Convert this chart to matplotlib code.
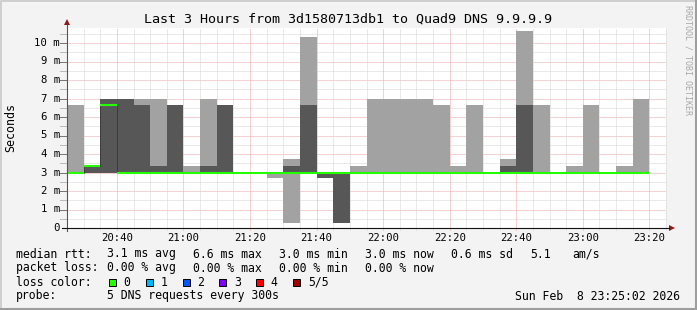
import matplotlib
matplotlib.use("Agg")
import matplotlib.pyplot as plt
from matplotlib.patches import Rectangle, Polygon

W, H = 697, 310
MONO = "DejaVu Sans Mono"

# 5 minute steps, start time of each step
step_times = ["20:25", "20:30", "20:35", "20:40", "20:45", "20:50", "20:55",
              "21:00", "21:05", "21:10", "21:15", "21:20", "21:25", "21:30",
              "21:35", "21:40", "21:45", "21:50", "21:55", "22:00", "22:05",
              "22:10", "22:15", "22:20", "22:25", "22:30", "22:35", "22:40",
              "22:45", "22:50", "22:55", "23:00", "23:05", "23:10", "23:15"]

# sorted ping values per step (ms): lowest, 2nd, median, 4th, highest
ping_lo = [3.0, 3.0, 3.0, 3.0, 3.0, 3.0, 3.0, 3.0, 3.0, 3.0, 3.0, 3.0, 2.70, 0.27,
           3.0, 2.70, 0.27, 3.0, 3.0, 3.0, 3.0, 3.0, 3.0, 3.0, 3.0, 3.0, 3.0, 3.0,
           3.0, 3.0, 3.0, 3.0, 3.0, 3.0, 3.0]
ping_q1 = [3.0, 3.0, 3.0, 3.0, 3.0, 3.0, 3.0, 3.0, 3.0, 3.0, 3.0, 3.0, 3.0, 3.0,
           3.0, 2.70, 0.27, 3.0, 3.0, 3.0, 3.0, 3.0, 3.0, 3.0, 3.0, 3.0, 3.0, 3.0,
           3.0, 3.0, 3.0, 3.0, 3.0, 3.0, 3.0]
median = [3.0, 3.35, 6.63, 3.0, 3.0, 3.0, 3.0, 3.0, 3.0, 3.0, 3.0, 3.0, 3.0, 3.0,
          3.0, 3.0, 3.0, 3.0, 3.0, 3.0, 3.0, 3.0, 3.0, 3.0, 3.0, 3.0, 3.0, 3.0,
          3.0, 3.0, 3.0, 3.0, 3.0, 3.0, 3.0]
ping_q3 = [3.0, 3.35, 7.0, 7.0, 6.63, 3.35, 6.63, 3.0, 3.35, 6.63, 3.0, 3.0, 3.0, 3.35,
           6.63, 3.0, 3.0, 3.0, 3.0, 3.0, 3.0, 3.0, 3.0, 3.0, 3.0, 3.0, 3.35, 6.63,
           3.0, 3.0, 3.0, 3.0, 3.0, 3.0, 3.0]
ping_hi = [6.63, 3.35, 7.0, 7.0, 7.0, 7.0, 6.63, 3.35, 7.0, 6.63, 3.0, 3.0, 3.0, 3.71,
           10.31, 3.0, 3.0, 3.35, 7.0, 7.0, 7.0, 7.0, 6.63, 3.35, 6.63, 3.0, 3.71, 10.63,
           6.63, 3.0, 3.35, 6.63, 3.0, 3.35, 7.0]

y_ticks = [0, 1, 2, 3, 4, 5, 6, 7, 8, 9, 10]
y_labels = ["0", "1 m", "2 m", "3 m", "4 m", "5 m", "6 m", "7 m", "8 m", "9 m", "10 m"]
x_labels = ["20:40", "21:00", "21:20", "21:40", "22:00", "22:20", "22:40", "23:00", "23:20"]

loss_labels = ["0", "1", "2", "3", "4", "5/5"]
loss_colors = ["#26ff00", "#00b8ff", "#0059ff", "#7e00ff", "#ff0000", "#a10000"]

rtt_items = ["3.1 ms avg", "6.6 ms max", "3.0 ms min", "3.0 ms now", "0.6 ms sd", "5.1", "am/s"]
loss_items = ["0.00 % avg", "0.00 % max", "0.00 % min", "0.00 % now"]


def to_min(t):
    h, m = t.split(":")
    return (int(h) - 20) * 60 + int(m)


edges = [to_min(t) for t in step_times] + [to_min(step_times[-1]) + 5]
x0, x1 = edges[0], edges[0] + 180

fig = plt.figure(figsize=(W / 100, H / 100), dpi=100, facecolor="#f3f3f3")

# plot area in pixels: x 67..666, y 28..228
ax = fig.add_axes([67 / W, (H - 228) / H, 599 / W, 200 / H])
ax.set_facecolor("white")
ax.set_xlim(x0, x1)
ax.set_ylim(0, 200 / 18.5)
for s in ax.spines.values():
    s.set_visible(False)
ax.set_xticks([])
ax.set_yticks([])

minor_c, major_c = "#d4d4d4", "#eca6a6"
dots = (0, (1, 1))
yv = 0.5
while yv < 200 / 18.5:
    c = major_c if yv % 1 == 0 else minor_c
    ax.axhline(yv, color=c, lw=0.72, ls=dots, zorder=0)
    ax.plot([-0.012, 0], [yv, yv], transform=ax.get_yaxis_transform(), color="#777777" if yv % 1 == 0 else "#bbbbbb",
            lw=0.72, clip_on=False)
    yv += 0.5
for xv in range(x0 + 5, x1 + 1, 5):
    c = major_c if xv % 20 == 0 else minor_c
    ax.plot([xv, xv], [-0.012, 1], transform=ax.get_xaxis_transform(), color=c, lw=0.72, ls=dots,
            zorder=0, clip_on=False)

# smoke
ax.stairs(ping_hi, edges, baseline=ping_lo, fill=True, color="#a2a2a2", lw=0, zorder=2)
ax.stairs(ping_q3, edges, baseline=ping_q1, fill=True, color="#575757", lw=0, zorder=3)

# median, with dotted connectors where it jumps
ax.hlines(median, edges[:-1], edges[1:], color="#26ff00", lw=1.5, zorder=5)
for i in range(1, len(median)):
    if median[i] != median[i - 1]:
        ax.vlines(edges[i], min(median[i], median[i - 1]), max(median[i], median[i - 1]),
                  color="#222222", lw=0.72, ls=dots, zorder=4)

for v, lab in zip(y_ticks, y_labels):
    ax.text(-7 / 599, v, lab, transform=ax.get_yaxis_transform(), ha="right", va="center",
            family=MONO, fontsize=7.7)
for lab in x_labels:
    ax.text(to_min(lab), -10 / 200, lab, transform=ax.get_xaxis_transform(), ha="center", va="center",
            family=MONO, fontsize=7.7)

# overlay in pixel coordinates for axes, arrows, frame and legend
ov = fig.add_axes([0, 0, 1, 1], zorder=10)
ov.set_xlim(0, W)
ov.set_ylim(H, 0)
ov.axis("off")
ov.patch.set_alpha(0)

ov.plot([67, 67], [231, 25], color="#555555", lw=0.8)
ov.plot([62, 669], [228, 228], color="#111111", lw=0.8)
ov.add_patch(Polygon([[64, 25], [70, 25], [67, 19]], closed=True, color="#8b1a1a", lw=0))
ov.add_patch(Polygon([[669, 225], [669, 231], [675, 228]], closed=True, color="#8b1a1a", lw=0))

# image frame
ov.plot([0.5, 0.5, W - 1], [H - 1, 0.5, 0.5], color="#cfcfcf", lw=1.4)
ov.plot([1, W - 1.5, W - 1.5], [H - 1.5, H - 1.5, 1], color="#9e9e9e", lw=2.2)

fig.text(348 / W, 1 - 19 / H, "Last 3 Hours from 3d1580713db1 to Quad9 DNS 9.9.9.9",
         ha="center", va="center", family=MONO, fontsize=9.6)
fig.text(11 / W, 1 - 127 / H, "Seconds", rotation=90, ha="center", va="center",
         family=MONO, fontsize=8.4)
fig.text(688 / W, 1 - 5 / H, "RRDTOOL / TOBI OETIKER", rotation=-90, ha="center", va="top",
         family=MONO, fontsize=6, color="#a8a8a8")

fs = 8.3
col_x = [107.3, 193.3, 279.3, 365, 451, 530.7, 572.3]
ov.text(16, 254, "median rtt:", family=MONO, fontsize=fs, va="center")
for x, s in zip(col_x, rtt_items):
    ov.text(x, 254, s, family=MONO, fontsize=fs, va="center")
ov.text(16, 268, "packet loss:", family=MONO, fontsize=fs, va="center")
for x, s in zip(col_x, loss_items):
    ov.text(x, 268, s, family=MONO, fontsize=fs, va="center")
ov.text(16, 282, "loss color:", family=MONO, fontsize=fs, va="center")
for i, (lab, c) in enumerate(zip(loss_labels, loss_colors)):
    bx = 108.7 + i * 36.9
    ov.add_patch(Rectangle((bx, 278.5), 7, 7.5, facecolor=c, edgecolor="black", lw=0.7))
    ov.text(bx + 14.6, 282, lab, family=MONO, fontsize=fs, va="center")
ov.text(16, 296, "probe:", family=MONO, fontsize=fs, va="center")
ov.text(107.3, 296, "5 DNS requests every 300s", family=MONO, fontsize=fs, va="center")
ov.text(680, 296, "Sun Feb  8 23:25:02 2026", family=MONO, fontsize=fs, va="center", ha="right")

fig.savefig("out.png", dpi=100, facecolor=fig.get_facecolor())
